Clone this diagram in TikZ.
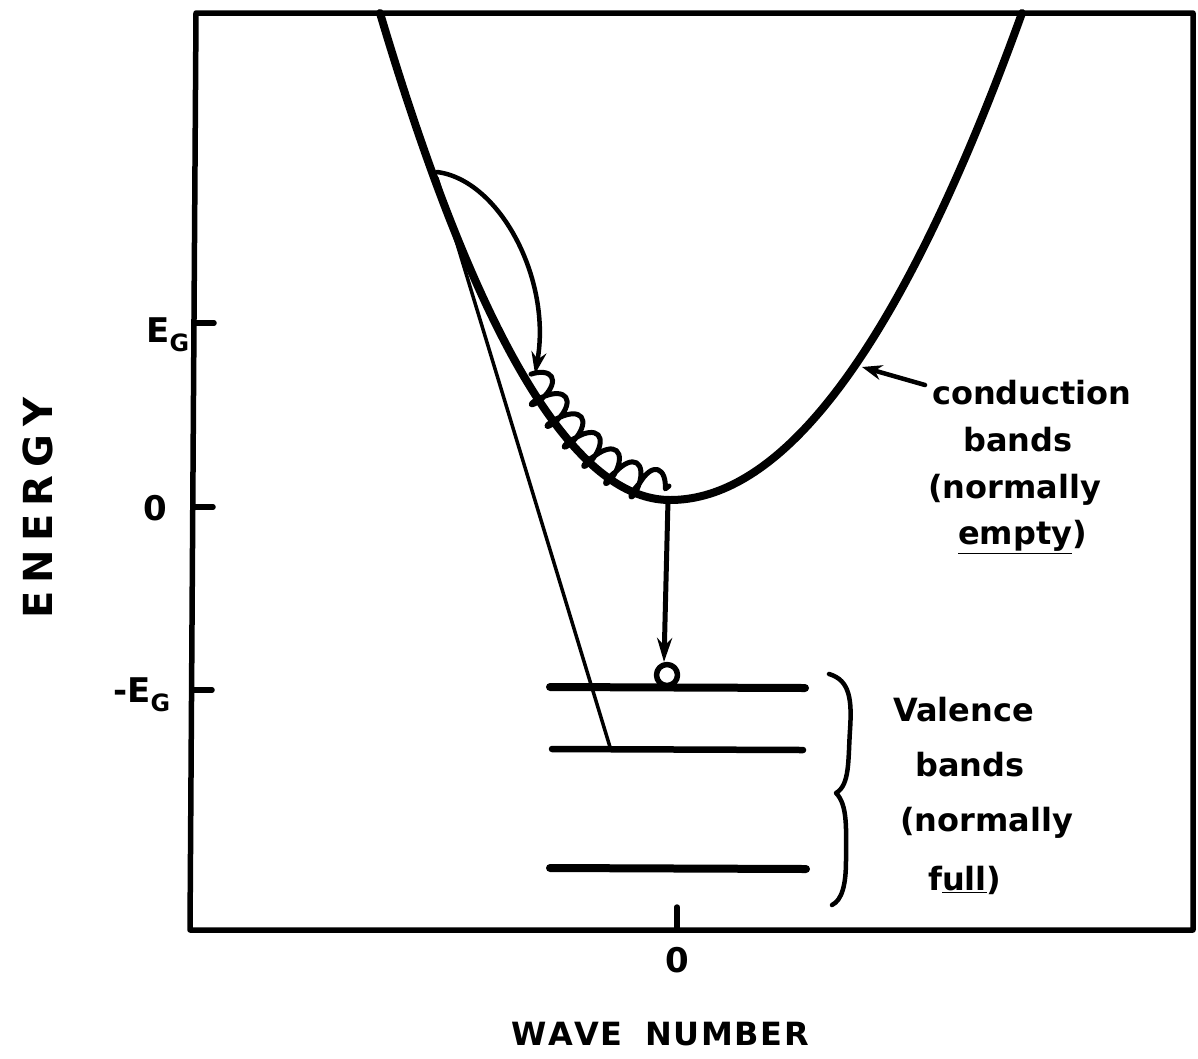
\documentclass[tikz,border=0pt]{standalone}
\usepackage{fontspec}
\setmainfont{DejaVu Sans}
\usetikzlibrary{arrows.meta,decorations.pathmorphing}
\begin{document}
\begin{tikzpicture}[x=1pt,y=-1pt,line cap=round,line join=round,
  frame/.style={line width=5.5pt},
  band/.style={line width=8pt},
  curveline/.style={line width=8pt},
  thinline/.style={line width=3.5pt},
  tickline/.style={line width=5.5pt},
  hand/.style={font=\fontsize{32}{36}\selectfont\bfseries, inner sep=0pt, anchor=west},
  caps/.style={font=\fontsize{40}{44}\selectfont\bfseries, inner sep=0pt},
  ticklab/.style={font=\fontsize{34}{38}\selectfont\bfseries, inner sep=0pt}]
\useasboundingbox (0,0) rectangle (1198,1058);
\fill[white] (0,0) rectangle (1198,1058);
% frame
\coordinate (tl) at (196,13);
\coordinate (tr) at (1193,13);
\coordinate (br) at (1193,930);
\coordinate (bl) at (190,930);
\draw[frame] (tl) -- (tr) -- (br) -- (bl) -- cycle;
% ticks
\coordinate (tEg) at (194,323);
\coordinate (tEge) at (214,323);
\coordinate (t0) at (193,507);
\coordinate (t0e) at (213,507);
\coordinate (tmE) at (192,690);
\coordinate (tmEe) at (212,690);
\coordinate (tx) at (677,930);
\coordinate (txe) at (677,907);
\draw[tickline] (tEg) -- (tEge);
\draw[tickline] (t0) -- (t0e);
\draw[tickline] (tmE) -- (tmEe);
\draw[tickline] (tx) -- (txe);
% tick labels
\node[ticklab] (lEg) at (168,335) {E\textsubscript{G}};
\node[ticklab] (l0) at (155,508) {0};
\node[ticklab] (lmEg) at (142,695) {-E\textsubscript{G}};
\node[ticklab] (lx0) at (677,960) {0};
% axis titles
\node[caps, rotate=90] (energy) at (38,508) {E\hspace{0.2em}N\hspace{0.2em}E\hspace{0.2em}R\hspace{0.2em}G\hspace{0.2em}Y};
\node[font=\fontsize{32}{36}\selectfont\bfseries, inner sep=0pt] (wave) at (660,1034) {W\hspace{0.05em}A\hspace{0.05em}V\hspace{0.05em}E\hspace{0.7em}N\hspace{0.05em}U\hspace{0.05em}M\hspace{0.05em}B\hspace{0.05em}E\hspace{0.05em}R};
% parabola
\draw[curveline] plot[domain=380:670,samples=80] (\x,{500-57.9*((670-\x)/100)^2});
\draw[curveline] plot[domain=670:1022,samples=80] (\x,{500-39.3*((\x-670)/100)^2});
% thin tangent line
\coordinate (thA) at (437,178);
\coordinate (thB) at (610,747);
\draw[thinline] (thA) -- (thB);
% arc arrow
\coordinate (arcA) at (437,172);
\coordinate (arcB) at (535,374);
\draw[line width=4.5pt,-{Stealth[length=22pt,width=15pt]}] (arcA) .. controls (500,180) and (552,280) .. (arcB);
% coil
\draw[line width=5pt,decorate,decoration={coil,amplitude=16pt,segment length=26pt,aspect=0.4}]
  plot[domain=531:669,samples=40] (\x,{500-57.9*((670-\x)/100)^2-14});
% vertical arrow and hole
\coordinate (vmin) at (668,500);
\coordinate (vtip) at (664,662);
\draw[line width=5pt,-{Stealth[length=24pt,width=15pt]}] (vmin) -- (vtip);
\node[circle,draw,line width=5.5pt,minimum size=21pt,inner sep=0pt] (hole) at (667,675) {};
% valence bands
\coordinate (b1a) at (550,687); \coordinate (b1b) at (805,688);
\coordinate (b2a) at (552,749); \coordinate (b2b) at (803,750);
\coordinate (b3a) at (550,868); \coordinate (b3b) at (806,869);
\draw[band] (b1a) -- (b1b);
\draw[line width=6.5pt] (b2a) -- (b2b);
\draw[band] (b3a) -- (b3b);
% brace
\draw[line width=4.5pt] (829,674) .. controls (850,680) and (852,700) .. (850,730)
  .. controls (848,760) and (850,785) .. (836,793)
  .. controls (848,805) and (846,830) .. (846,860)
  .. controls (846,885) and (842,900) .. (832,905);
% conduction label
\node[hand] (c1) at (932,393) {conduction};
\node[hand] (c2) at (963,440) {bands};
\node[hand] (c3) at (928,490) {(normally};
\node[hand] (c4) at (958,537) {\underline{empty})};
\coordinate (carr) at (925,385);
\coordinate (ctip) at (862,367);
\draw[line width=4.5pt,-{Stealth[length=20pt,width=15pt]}] (carr) -- (ctip);
% valence label
\node[hand] (v1) at (893,710) {Valence};
\node[hand] (v2) at (915,765) {bands};
\node[hand] (v3) at (900,823) {(normally};
\node[hand] (v4) at (928,880) {f\underline{ull})};
\end{tikzpicture}
\end{document}
